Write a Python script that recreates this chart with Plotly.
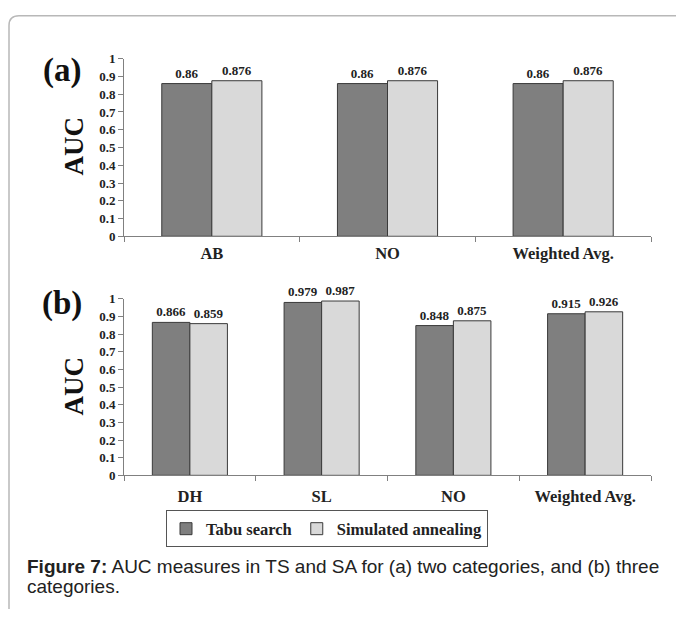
import plotly.graph_objects as go

# ---- data ----
cats_a = ["AB", "NO", "Weighted Avg."]
ts_a = [0.86, 0.86, 0.86]
sa_a = [0.876, 0.876, 0.876]

cats_b = ["DH", "SL", "NO", "Weighted Avg."]
ts_b = [0.866, 0.979, 0.848, 0.915]
sa_b = [0.859, 0.987, 0.875, 0.926]

y_ticks = [0, 0.1, 0.2, 0.3, 0.4, 0.5, 0.6, 0.7, 0.8, 0.9, 1]
series_names = ["Tabu search", "Simulated annealing"]

W, H = 676, 617
SERIF = "Liberation Serif, Times New Roman, serif"
SANS = "Liberation Sans, Arial, sans-serif"
DARK = "#7f7f7f"
LIGHT = "#d9d9d9"
EDGE = "#3a3a3a"


def px(x):
    return x / W


def py(y):
    return 1 - y / H


fig = go.Figure()

lab_font = dict(family=SERIF, size=13, color="#222", weight="bold")

for i, (name, color) in enumerate(zip(series_names, [DARK, LIGHT])):
    vals = [ts_a, sa_a][i]
    fig.add_trace(go.Bar(
        x=cats_a, y=vals, name=name, marker=dict(color=color, line=dict(color=EDGE, width=1)),
        text=[f"{v:g}" for v in vals], textposition="outside", textfont=lab_font,
        cliponaxis=False, xaxis="x", yaxis="y", showlegend=True, legendgroup=name,
    ))
for i, (name, color) in enumerate(zip(series_names, [DARK, LIGHT])):
    vals = [ts_b, sa_b][i]
    fig.add_trace(go.Bar(
        x=cats_b, y=vals, name=name, marker=dict(color=color, line=dict(color=EDGE, width=1)),
        text=[f"{v:g}" for v in vals], textposition="outside", textfont=lab_font,
        cliponaxis=False, xaxis="x2", yaxis="y2", showlegend=False, legendgroup=name,
    ))

tick_font = dict(family=SERIF, size=13, color="#222", weight="bold")
cat_font = dict(family=SERIF, size=16.5, color="#222", weight="bold")

yax = dict(range=[0, 1], tickvals=y_ticks, ticktext=[f"{v:g}" for v in y_ticks],
           showgrid=False, zeroline=False, showline=True, linecolor="#808080", linewidth=1,
           ticks="outside", ticklen=5, tickcolor="#808080", tickfont=tick_font, fixedrange=True)
xax = dict(showgrid=False, zeroline=False, showline=True, linecolor="#808080", linewidth=1,
           ticks="outside", ticklen=5, tickcolor="#808080", tickson="boundaries",
           tickfont=cat_font)

fig.update_layout(
    width=W, height=H, margin=dict(l=0, r=0, t=0, b=0),
    paper_bgcolor="white", plot_bgcolor="white",
    barmode="group", bargap=0.43, bargroupgap=0,
    xaxis=dict(domain=[px(124), px(651)], anchor="y", ticklabelstandoff=2, **xax),
    yaxis=dict(domain=[py(235), py(53)], anchor="x", **yax),
    xaxis2=dict(domain=[px(124), px(651)], anchor="y2", ticklabelstandoff=6, **xax),
    yaxis2=dict(domain=[py(480), py(299)], anchor="x2", **yax),
    legend=dict(orientation="h", x=px(327), xanchor="center", y=py(516), yanchor="top",
                bordercolor="#555", borderwidth=1, bgcolor="white",
                font=dict(family=SERIF, size=16.5, color="#222", weight="bold"),
                itemwidth=30, tracegroupgap=0),
    showlegend=True,
)

# panel labels and axis titles
for lbl, yc in [("(a)", 65), ("(b)", 304)]:
    fig.add_annotation(text=lbl, x=px(62), y=py(yc), xref="paper", yref="paper", showarrow=False,
                       xanchor="center", yanchor="middle",
                       font=dict(family=SERIF, size=33, color="#111", weight="bold"))
for yc in [143, 389]:
    fig.add_annotation(text="AUC", x=px(74), y=py(yc), xref="paper", yref="paper", showarrow=False,
                       xanchor="center", yanchor="middle",
                       textangle=-90, font=dict(family=SERIF, size=27, color="#111", weight="bold"))

# caption
fig.add_annotation(text="<b>Figure 7:</b> AUC measures in TS and SA for (a) two categories, and (b) three",
                   x=px(25), y=py(573), xref="paper", yref="paper", xanchor="left", yanchor="middle",
                   showarrow=False, font=dict(family=SANS, size=19, color="#222"))
fig.add_annotation(text="categories.",
                   x=px(25), y=py(594), xref="paper", yref="paper", xanchor="left", yanchor="middle",
                   showarrow=False, font=dict(family=SANS, size=19, color="#222"))

# outer frame (rounded top-left corner)
fig.add_shape(type="path", xref="paper", yref="paper",
              path=f"M {px(9)},{py(617)} L {px(9)},{py(19)} Q {px(9)},{py(9)} {px(19)},{py(9)} L {px(676)},{py(9)}",
              line=dict(color="#b8b8b8", width=1.5))

fig.write_html("out.html")
